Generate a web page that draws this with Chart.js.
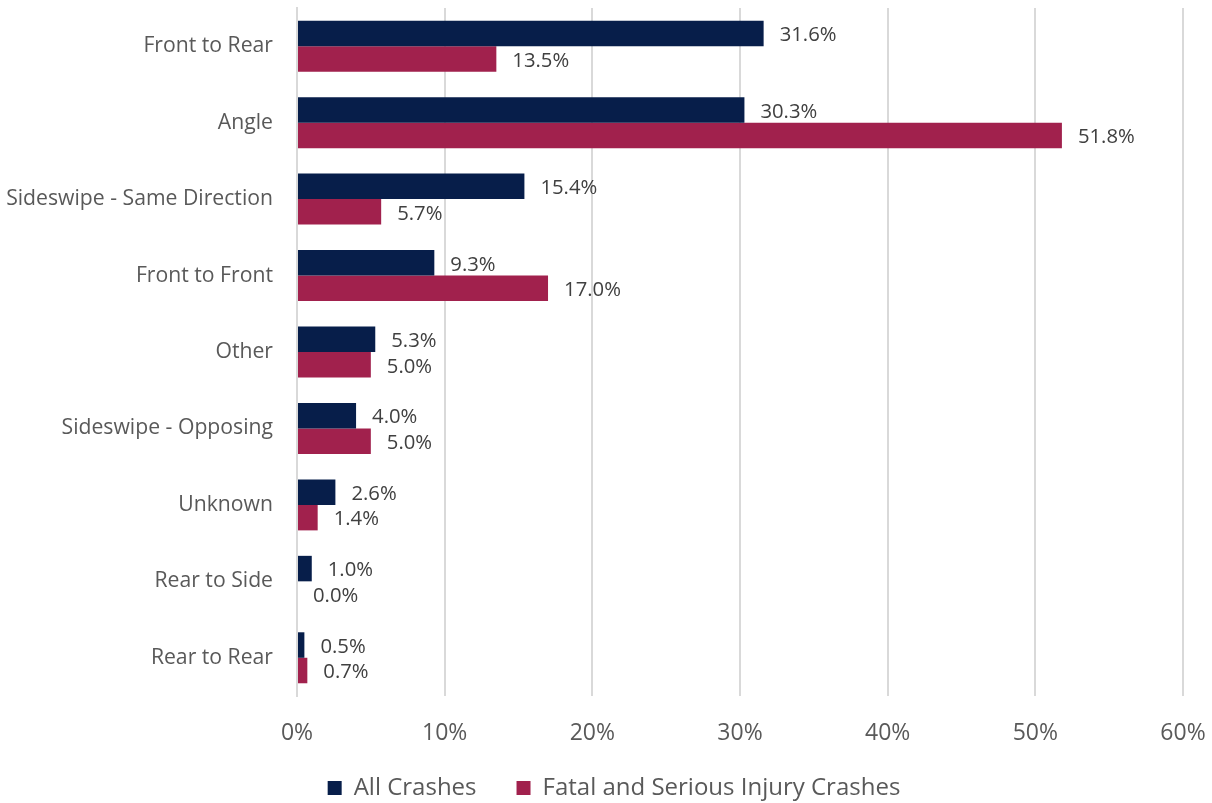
<!DOCTYPE html>
<html>
<head>
<meta charset="utf-8">
<script src="https://cdn.jsdelivr.net/npm/chart.js@4"></script>
<style>
html,body{margin:0;padding:0;background:#fff;}
#wrap{width:1212px;height:803px;position:relative;}
</style>
</head>
<body>
<div id="wrap"><canvas id="c" width="1212" height="803"></canvas></div>
<script>
const categories = ["Front to Rear","Angle","Sideswipe - Same Direction","Front to Front","Other","Sideswipe - Opposing","Unknown","Rear to Side","Rear to Rear"];
const allCrashes = [31.6,30.3,15.4,9.3,5.3,4.0,2.6,1.0,0.5];
const fatalSerious = [13.5,51.8,5.7,17.0,5.0,5.0,1.4,0.0,0.7];
const seriesNames = ["All Crashes","Fatal and Serious Injury Crashes"];
const xTicks = [0,10,20,30,40,50,60];

const FONT = "'Open Sans', sans-serif";
const X_AXIS_H = 52;
const PLOT_BOTTOM = 696;
const LEG_PAD = 40;
const LEG_FONT = 24;
const LEG_CENTER_Y = 788;
const LEG_DX = 22.5;

const dataLabels = {
  id:'dataLabels',
  afterDatasetsDraw(chart){
    const ctx = chart.ctx;
    ctx.save();
    ctx.font = "20.3px " + FONT;
    ctx.fillStyle = "#404040";
    ctx.textAlign = "left";
    ctx.textBaseline = "middle";
    chart.data.datasets.forEach((ds,i)=>{
      const meta = chart.getDatasetMeta(i);
      meta.data.forEach((bar,j)=>{
        ctx.fillText(ds.data[j].toFixed(1)+'%', bar.x + 16, bar.y + 2);
      });
    });
    ctx.restore();
  }
};

const chart = new Chart(document.getElementById('c'),{
  type:'bar',
  data:{
    labels:categories,
    datasets:[
      {label:seriesNames[0],data:allCrashes,backgroundColor:'#071E4A',categoryPercentage:0.667,barPercentage:1},
      {label:seriesNames[1],data:fatalSerious,backgroundColor:'#A1214D',categoryPercentage:0.667,barPercentage:1}
    ]
  },
  options:{
    indexAxis:'y',
    responsive:false,
    animation:false,
    layout:{padding:{top:8,right:29,left:0,bottom:0}},
    plugins:{
      legend:{
        position:'bottom',
        labels:{font:{family:FONT,size:LEG_FONT},color:'#595959',boxWidth:14,boxHeight:14,padding:LEG_PAD}
      },
      tooltip:{enabled:false}
    },
    scales:{
      x:{
        min:0,max:60,
        afterBuildTicks(s){ s.ticks = xTicks.map(v=>({value:v})); },
        afterFit(s){ s.height = X_AXIS_H; },
        ticks:{callback:v=>v+'%',font:{family:FONT,size:23},color:'#595959',padding:0,maxRotation:0},
        grid:{color:'#d9d9d9',lineWidth:2,drawTicks:true,tickLength:24,tickColor:'rgba(0,0,0,0)'},
        border:{display:false}
      },
      y:{
        afterFit(s){ s.width = 297; },
        ticks:{font:{family:FONT,size:21.2,lineHeight:0.7},color:'#595959',padding:0},
        grid:{display:true,drawOnChartArea:false,color:'rgba(0,0,0,0)',drawTicks:true,tickLength:24},
        border:{display:true,color:'#d9d9d9',width:2}
      }
    }
  },
  plugins:[dataLabels]
});
const lg = chart.legend;
const origFit = lg.fit.bind(lg);
lg.fit = function(){ origFit(); this.height = 803 - PLOT_BOTTOM - X_AXIS_H; };
lg.draw = function(){
  if (!this.options.display) return;
  const ctx = this.ctx;
  ctx.save();
  ctx.translate(LEG_DX, LEG_CENTER_Y - (this.top + LEG_PAD + LEG_FONT/2));
  this._draw();
  ctx.restore();
};
chart.update();
</script>
</body>
</html>
